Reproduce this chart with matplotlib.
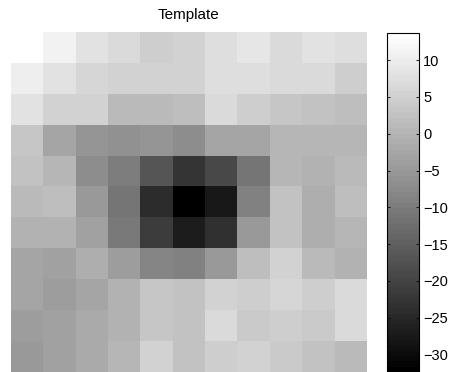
import numpy as np
import matplotlib
matplotlib.use("Agg")
import matplotlib.pyplot as plt

plt.rcParams['font.family'] = ['Liberation Sans', 'DejaVu Sans']

# 11x11 template weights (row 0 at the top)
template = [
    [13.7, 11.1, 8.0, 6.9, 4.5, 5.4, 7.6, 9.3, 6.7, 8.2, 7.4],
    [10.5, 8.2, 6.2, 5.1, 5.1, 5.4, 7.4, 7.4, 6.7, 6.7, 4.5],
    [8.5, 5.1, 5.1, 1.2, 1.2, 2.0, 6.7, 4.5, 3.3, 2.7, 1.8],
    [3.1, -2.8, -5.3, -6.0, -5.7, -6.8, -2.8, -2.8, 0.7, 0.3, 0.3],
    [2.3, 0.3, -7.1, -10.0, -16.9, -22.6, -18.9, -10.9, 0.7, -0.6, 1.1],
    [1.2, 2.0, -4.6, -11.5, -24.2, -32.4, -27.9, -9.3, 2.3, -1.1, 1.6],
    [0.0, 0.0, -3.3, -10.6, -21.5, -27.3, -23.3, -4.9, 2.3, -0.9, 0.3],
    [-2.6, -3.5, -0.9, -4.0, -8.2, -8.8, -4.7, 2.0, 5.6, 1.2, -0.4],
    [-2.4, -3.8, -2.4, -0.2, 3.4, 2.2, 5.6, 4.9, 6.3, 4.7, 6.7],
    [-4.0, -3.3, -2.0, -0.2, 3.6, 2.7, 6.9, 3.8, 4.5, 3.8, 7.1],
    [-4.9, -3.1, -2.0, 0.3, 5.4, 2.7, 4.9, 5.6, 3.8, 2.3, 1.1],
]
cbar_ticks = [10, 5, 0, -5, -10, -15, -20, -25, -30]

data = np.array(template)

fig = plt.figure(figsize=(4.54, 3.72), dpi=100)
ax = fig.add_axes([11 / 454, 0.0, 356 / 454, 340 / 372])
cax = fig.add_axes([387 / 454, 0.0, 32 / 454, 339 / 372])

cmap = plt.get_cmap('gray', 64)
im = ax.imshow(data, cmap=cmap, aspect='auto', interpolation='nearest',
               vmin=data.min(), vmax=data.max())
ax.set_axis_off()
ax.set_title('Template', fontsize=11, pad=9)

cb = fig.colorbar(im, cax=cax, ticks=cbar_ticks)
cb.outline.set_linewidth(0.8)
cb.outline.set_edgecolor('black')
cax.tick_params(axis='y', direction='in', length=2.5, width=0.6,
                left=True, right=True, labelsize=10.5, pad=3)

fig.savefig('out.png', dpi=100)
